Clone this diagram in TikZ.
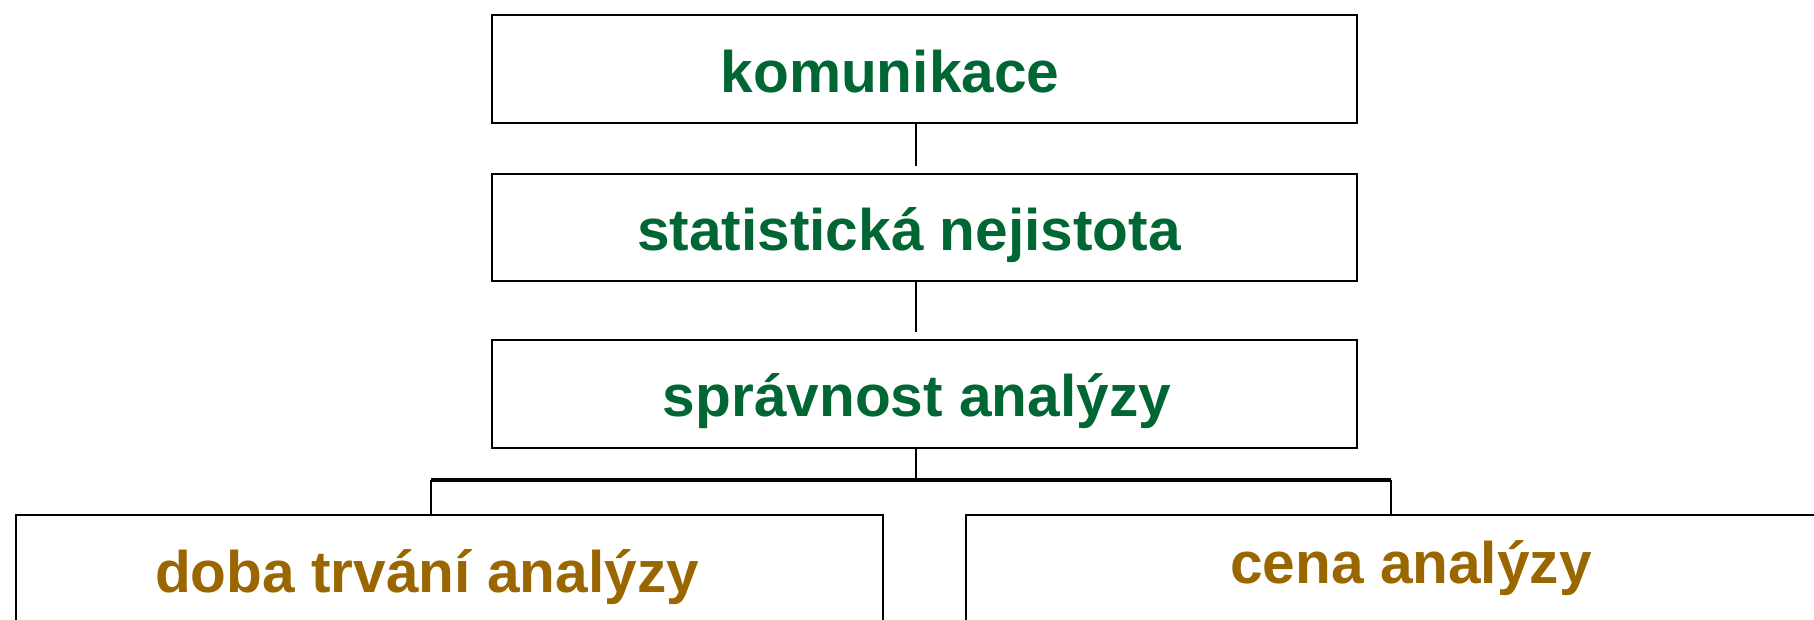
\documentclass[tikz,border=0pt]{standalone}
\usepackage{fontspec}
\setmainfont{Liberation Sans}
\usetikzlibrary{calc}
\definecolor{tgreen}{HTML}{006633}
\definecolor{tbrown}{HTML}{996600}
\begin{document}
\begin{tikzpicture}[x=1pt,y=-1pt,
  box/.style={draw=black,line width=2.5pt,inner sep=0pt,outer sep=0pt},
  lbl/.style={anchor=base,inner sep=0pt,font=\fontsize{58.6}{70}\selectfont\bfseries},
  gl/.style={lbl,text=tgreen},
  bl/.style={lbl,text=tbrown},
  conn/.style={draw=black,line width=2.2pt},
  busline/.style={draw=black,line width=3.5pt}]
\useasboundingbox (0,0) rectangle (1814,619);
\node[box,minimum width=865pt,minimum height=108pt] (b1) at (924.5,69) {};
\node[box,minimum width=865pt,minimum height=107pt] (b2) at (924.5,227.5) {};
\node[box,minimum width=865pt,minimum height=108pt] (b3) at (924.5,394) {};
\node[box,minimum width=867pt,minimum height=125pt] (b4) at (449.5,577.5) {};
\node[box,minimum width=854pt,minimum height=125pt] (b5) at (1393,577.5) {};
\node[gl] (t1) at (890,92.6) {komunikace};
\node[gl] (t2) at (909,250) {statistická nejistota};
\node[gl] (t3) at (917,416.5) {správnost analýzy};
\node[bl] (t4) at (427,592) {doba trvání analýzy};
\node[bl] (t5) at (1411,583) {cena analýzy};
\coordinate (sp) at (916,0);
\coordinate (bus) at (916,480);
\coordinate (bl) at (431,480);
\coordinate (br) at (1391,480);
\draw[conn] (b1.south -| sp) -- ($(b2.north -| sp)+(0,-8)$);
\draw[conn] (b2.south -| sp) -- ($(b3.north -| sp)+(0,-8)$);
\draw[conn] (b3.south -| sp) -- (bus);
\draw[busline] (bl) -- (br);
\draw[conn] (bl) -- (bl |- b4.north);
\draw[conn] (br) -- (br |- b5.north);
\end{tikzpicture}
\end{document}
